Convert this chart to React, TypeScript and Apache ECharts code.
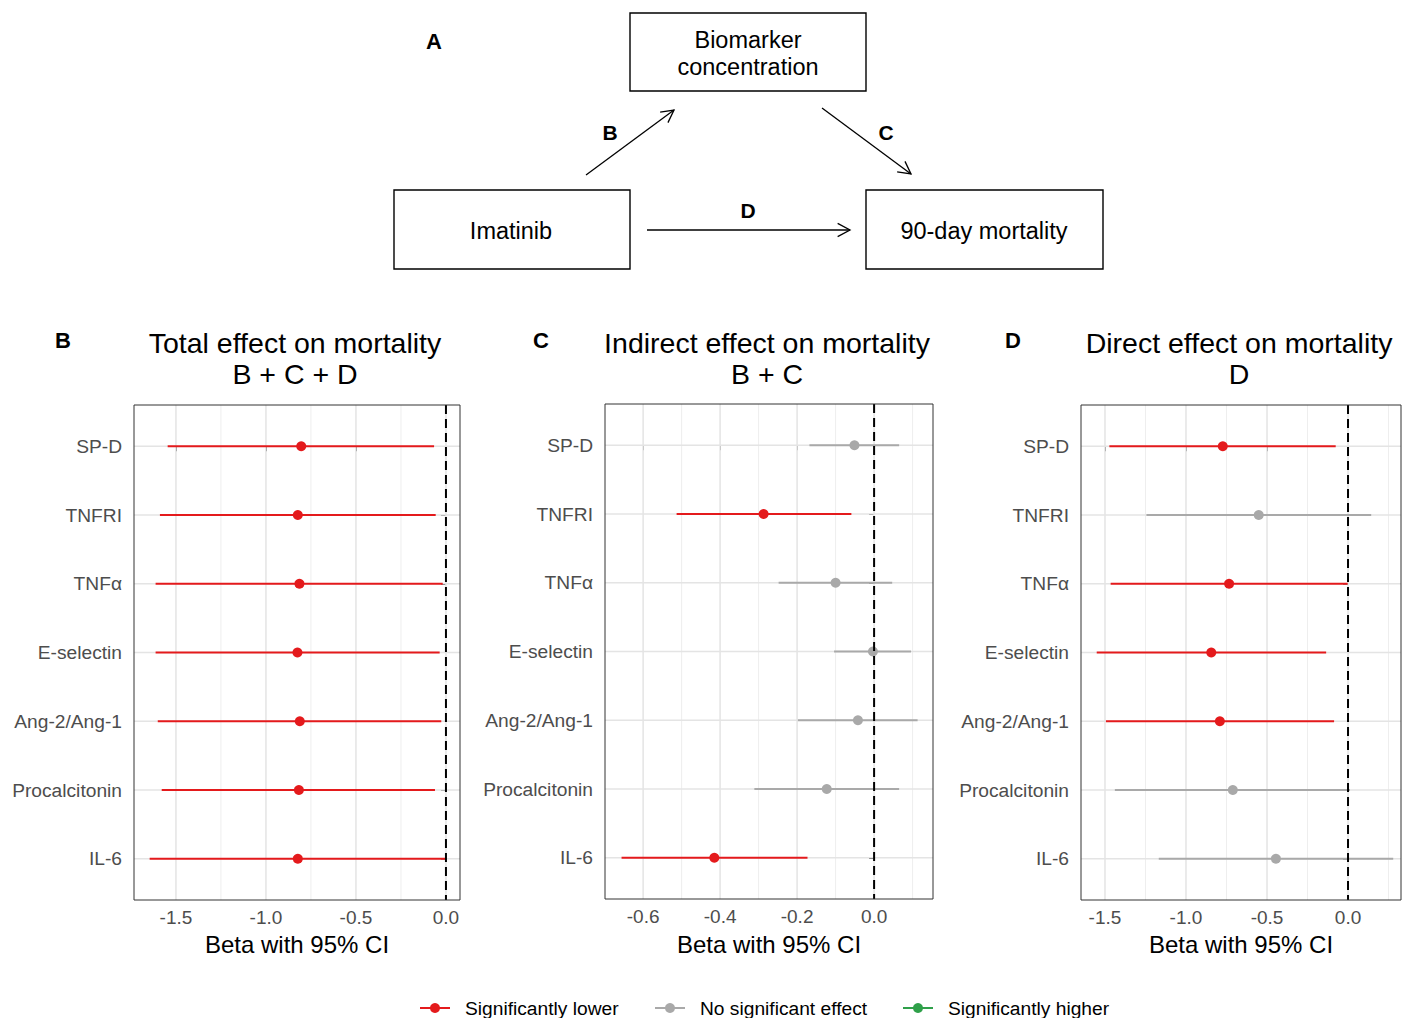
import React, { useEffect, useRef } from "react";
import * as echarts from "echarts";

const categories = ["SP-D", "TNFRI", "TNFα", "E-selectin", "Ang-2/Ang-1", "Procalcitonin", "IL-6"];

// Total effect (B + C + D)
const totalEst = [-0.804, -0.823, -0.814, -0.825, -0.812, -0.817, -0.823];
const totalLow = [-1.546, -1.589, -1.613, -1.613, -1.601, -1.579, -1.646];
const totalHigh = [-0.066, -0.057, -0.018, -0.035, -0.026, -0.061, -0.002];
const totalSig = [0, 0, 0, 0, 0, 0, 0];

// Indirect effect (B + C)
const indirectEst = [-0.051, -0.287, -0.100, -0.003, -0.042, -0.123, -0.415];
const indirectLow = [-0.168, -0.513, -0.248, -0.104, -0.198, -0.311, -0.656];
const indirectHigh = [0.065, -0.059, 0.047, 0.096, 0.113, 0.065, -0.173];
const indirectSig = [1, 0, 1, 1, 1, 1, 0];

// Direct effect (D)
const directEst = [-0.773, -0.551, -0.734, -0.844, -0.791, -0.711, -0.445];
const directLow = [-1.473, -1.244, -1.465, -1.551, -1.494, -1.439, -1.168];
const directHigh = [-0.076, 0.143, -0.002, -0.135, -0.086, 0.012, 0.279];
const directSig = [0, 1, 0, 0, 0, 1, 1];

const totalTicks = [-1.5, -1.0, -0.5, 0.0];
const totalMinor = [-1.25, -0.75, -0.25];
const indirectTicks = [-0.6, -0.4, -0.2, 0.0];
const indirectMinor = [-0.5, -0.3, -0.1, 0.1];
const directTicks = [-1.5, -1.0, -0.5, 0.0];
const directMinor = [-1.25, -0.75, -0.25, 0.25];

const legendLabels = ["Significantly lower", "No significant effect", "Significantly higher"];
const sigColors = ["#E41A1C", "#A9A9A9", "#2FA04A"];

const FONT = "'Liberation Sans', Arial, Helvetica, sans-serif";
const Y_MIN = -0.6;
const Y_MAX = 6.6;

type Panel = {
  letter: string;
  title1: string;
  title2: string;
  est: number[];
  low: number[];
  high: number[];
  sig: number[];
  ticks: number[];
  minor: number[];
  xmin: number;
  xmax: number;
  left: number;
  top: number;
  width: number;
  height: number;
  letterX: number;
};

const panels: Panel[] = [
  {
    letter: "B", title1: "Total effect on mortality", title2: "B + C + D",
    est: totalEst, low: totalLow, high: totalHigh, sig: totalSig,
    ticks: totalTicks, minor: totalMinor, xmin: -1.733, xmax: 0.078,
    left: 134, top: 405, width: 326, height: 495, letterX: 63,
  },
  {
    letter: "C", title1: "Indirect effect on mortality", title2: "B + C",
    est: indirectEst, low: indirectLow, high: indirectHigh, sig: indirectSig,
    ticks: indirectTicks, minor: indirectMinor, xmin: -0.699, xmax: 0.153,
    left: 605, top: 404, width: 328, height: 495, letterX: 541,
  },
  {
    letter: "D", title1: "Direct effect on mortality", title2: "D",
    est: directEst, low: directLow, high: directHigh, sig: directSig,
    ticks: directTicks, minor: directMinor, xmin: -1.648, xmax: 0.327,
    left: 1081, top: 405, width: 320, height: 495, letterX: 1013,
  },
];

function arrow(x1: number, y1: number, x2: number, y2: number) {
  const dx = x2 - x1;
  const dy = y2 - y1;
  const len = Math.sqrt(dx * dx + dy * dy);
  const ux = dx / len;
  const uy = dy / len;
  const head = 14;
  const ang = (28 * Math.PI) / 180;
  const rot = (a: number) => [
    -(ux * Math.cos(a) - uy * Math.sin(a)) * head,
    -(ux * Math.sin(a) + uy * Math.cos(a)) * head,
  ];
  const a1 = rot(ang);
  const a2 = rot(-ang);
  return [
    { type: "line", shape: { x1, y1, x2, y2 }, style: { stroke: "#000", lineWidth: 1.3 } },
    {
      type: "polyline",
      shape: { points: [[x2 + a1[0], y2 + a1[1]], [x2, y2], [x2 + a2[0], y2 + a2[1]]] },
      style: { stroke: "#000", lineWidth: 1.3, fill: null },
    },
  ];
}

function box(x: number, y: number, w: number, h: number) {
  return { type: "rect", shape: { x, y, width: w, height: h }, style: { stroke: "#000", lineWidth: 1.4, fill: "#fff" } };
}

function label(text: string, x: number, y: number, size: number, bold = false, color = "#000") {
  return {
    type: "text",
    x,
    y,
    style: {
      text,
      fill: color,
      font: `${bold ? "bold " : ""}${size}px ${FONT}`,
      align: "center",
      verticalAlign: "middle",
    },
  };
}

export default function App() {
  const ref = useRef<HTMLDivElement>(null);

  useEffect(() => {
    if (!ref.current) return;
    const chart = echarts.init(ref.current, undefined, { renderer: "svg" });

    const grids: any[] = [];
    const xAxes: any[] = [];
    const yAxes: any[] = [];
    const series: any[] = [];
    const graphics: any[] = [];

    panels.forEach((p, i) => {
      grids.push({
        left: p.left, top: p.top, width: p.width, height: p.height,
        show: true, borderColor: "#333333", borderWidth: 1, backgroundColor: "transparent",
        z: 5,
      });
      xAxes.push({
        type: "value", gridIndex: i, min: p.xmin, max: p.xmax,
        axisLine: { show: false },
        splitLine: { show: false },
        axisTick: { show: true, customValues: p.ticks, length: 5, lineStyle: { color: "#333333", width: 1 } },
        axisLabel: {
          show: true, customValues: p.ticks, margin: 8,
          formatter: (v: number) => v.toFixed(1),
          color: "#4D4D4D", fontSize: 19, fontFamily: FONT,
        },
      });
      yAxes.push({
        type: "value", gridIndex: i, min: Y_MIN, max: Y_MAX, inverse: true,
        axisLine: { show: false },
        splitLine: { show: false },
        axisTick: { show: true, customValues: categories.map((_, k) => k), length: 5, lineStyle: { color: "#333333", width: 1 } },
        axisLabel: {
          show: true, customValues: categories.map((_, k) => k), margin: 12,
          formatter: (v: number) => categories[Math.round(v)] ?? "",
          color: "#4D4D4D", fontSize: 19.2, fontFamily: FONT,
        },
      });

      // vertical grid lines (major + minor)
      const vgrid = [
        ...p.ticks.map((v) => [v, 1]),
        ...p.minor.map((v) => [v, 0]),
      ];
      series.push({
        type: "custom", xAxisIndex: i, yAxisIndex: i, z: 1, silent: true,
        data: vgrid,
        encode: { x: 0 },
        renderItem: (params: any, api: any) => {
          const v = api.value(0);
          const major = api.value(1) === 1;
          const a = api.coord([v, Y_MIN]);
          const b = api.coord([v, Y_MAX]);
          return {
            type: "line",
            shape: { x1: a[0], y1: a[1], x2: b[0], y2: b[1] },
            style: { stroke: major ? "#E4E4E4" : "#EEEEEE", lineWidth: major ? 1.5 : 1 },
          };
        },
      });
      // horizontal grid lines at categories
      series.push({
        type: "custom", xAxisIndex: i, yAxisIndex: i, z: 1, silent: true,
        data: categories.map((_, k) => [k]),
        encode: { y: 0 },
        renderItem: (params: any, api: any) => {
          const k = api.value(0);
          const a = api.coord([p.xmin, k]);
          const b = api.coord([p.xmax, k]);
          return {
            type: "line",
            shape: { x1: a[0], y1: a[1], x2: b[0], y2: b[1] },
            style: { stroke: "#E4E4E4", lineWidth: 1.5 },
          };
        },
      });
      // error bars + points
      series.push({
        type: "custom", xAxisIndex: i, yAxisIndex: i, z: 3,
        data: categories.map((_, k) => [p.est[k], k, p.low[k], p.high[k], p.sig[k]]),
        encode: { x: [0, 2, 3], y: 1 },
        renderItem: (params: any, api: any) => {
          const est = api.value(0);
          const k = api.value(1);
          const lo = api.value(2);
          const hi = api.value(3);
          const color = sigColors[api.value(4)];
          const a = api.coord([lo, k]);
          const b = api.coord([hi, k]);
          const c = api.coord([est, k]);
          return {
            type: "group",
            children: [
              { type: "line", shape: { x1: a[0], y1: a[1], x2: b[0], y2: b[1] }, style: { stroke: color, lineWidth: 2 } },
              { type: "circle", shape: { cx: c[0], cy: c[1], r: 5 }, style: { fill: color } },
            ],
          };
        },
      });
      // reference line at 0
      series.push({
        type: "custom", xAxisIndex: i, yAxisIndex: i, z: 4, silent: true,
        data: [[0]],
        encode: { x: 0 },
        renderItem: (params: any, api: any) => {
          const v = api.value(0);
          const a = api.coord([v, Y_MIN]);
          const b = api.coord([v, Y_MAX]);
          return {
            type: "line",
            shape: { x1: a[0], y1: a[1], x2: b[0], y2: b[1] },
            style: { stroke: "#000", lineWidth: 2, lineDash: [9, 5] },
          };
        },
      });

      const cx = p.left + p.width / 2;
      graphics.push(label(p.title1, cx - 2, 343, 28.5));
      graphics.push(label(p.title2, cx - 2, 374, 28.5));
      graphics.push(label(p.letter, p.letterX, 340, 22, true));
      graphics.push(label("Beta with 95% CI", cx, 944, 24));
    });

    // diagram (panel A)
    graphics.push(label("A", 434, 41, 22, true));
    graphics.push(box(630, 13, 236, 78));
    graphics.push(label("Biomarker", 748, 40, 23.5));
    graphics.push(label("concentration", 748, 67, 23.5));
    graphics.push(box(394, 190, 236, 79));
    graphics.push(label("Imatinib", 511, 231, 23.5));
    graphics.push(box(866, 190, 237, 79));
    graphics.push(label("90-day mortality", 984, 231, 23.5));
    graphics.push(...arrow(586, 175, 674, 110));
    graphics.push(...arrow(822, 108, 911, 174));
    graphics.push(...arrow(647, 230, 850, 230));
    graphics.push(label("B", 610, 132, 21, true));
    graphics.push(label("C", 886, 132, 21, true));
    graphics.push(label("D", 748, 210, 21, true));

    // legend
    const legendX = [420, 655, 903];
    legendLabels.forEach((t, k) => {
      const x = legendX[k];
      graphics.push({ type: "line", shape: { x1: x, y1: 1008, x2: x + 30, y2: 1008 }, style: { stroke: sigColors[k], lineWidth: 2 } });
      graphics.push({ type: "circle", shape: { cx: x + 15, cy: 1008, r: 5 }, style: { fill: sigColors[k] } });
      graphics.push({
        type: "text", x: x + 45, y: 1008,
        style: { text: t, fill: "#000", font: `19.2px ${FONT}`, align: "left", verticalAlign: "middle" },
      });
    });

    chart.setOption({
      animation: false,
      backgroundColor: "#ffffff",
      grid: grids,
      xAxis: xAxes,
      yAxis: yAxes,
      series,
      graphic: { elements: graphics },
    });

    return () => chart.dispose();
  }, []);

  return (
    <div
      ref={ref}
      style={{ position: "absolute", left: 0, top: 0, width: 1402, height: 1018 }}
    />
  );
}
